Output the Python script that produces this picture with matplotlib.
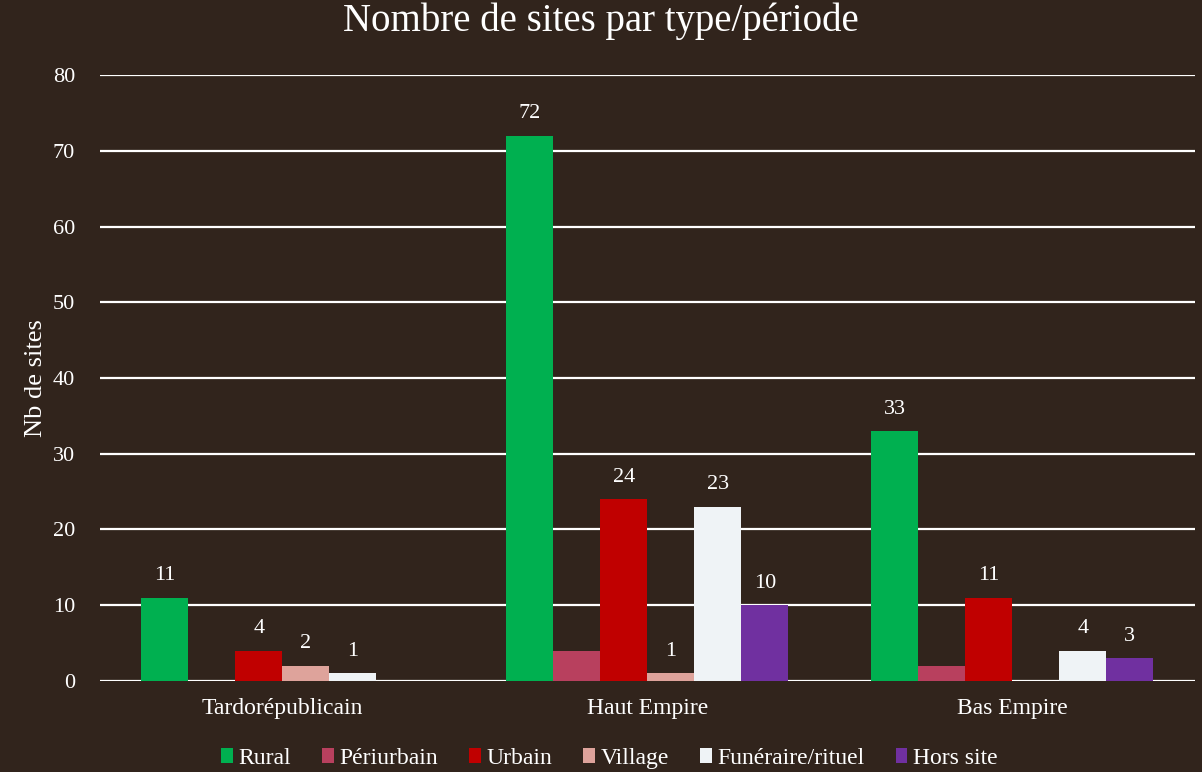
import numpy as np
import matplotlib.pyplot as plt
from matplotlib.patches import Patch

periodes = ["Tardorépublicain", "Haut Empire", "Bas Empire"]
types = ["Rural", "Périurbain", "Urbain", "Village", "Funéraire/rituel", "Hors site"]

rural = [11, 72, 33]
periurbain = [0, 4, 2]
urbain = [4, 24, 11]
village = [2, 1, 0]
funeraire = [1, 23, 4]
hors_site = [0, 10, 3]

couleurs = ["#00b050", "#b8405e", "#c00000", "#dea39b", "#eff3f6", "#7030a0"]
# Périurbain has no data labels in the original
avec_etiquettes = [True, False, True, True, True, True]

fond = "#31241c"
texte = "#ffffff"

plt.rcParams["font.family"] = ["Liberation Serif", "DejaVu Serif"]

fig = plt.figure(figsize=(12.02, 7.72), dpi=100, facecolor=fond)
ax = fig.add_axes([0.0832, 0.1179, 0.9108, 0.7849], facecolor=fond)

series = [rural, periurbain, urbain, village, funeraire, hors_site]
x = np.arange(len(periodes))
w = 0.1288

for i, (vals, nom, c) in enumerate(zip(series, types, couleurs)):
    pos = x + (i - 2.5) * w
    barres = ax.bar(pos, vals, width=w, color=c, label=nom, zorder=3)
    if avec_etiquettes[i]:
        for b, v in zip(barres, vals):
            if v == 0:
                continue
            ax.annotate(str(v), (b.get_x() + b.get_width() / 2, v),
                        xytext=(0, 9), textcoords="offset points",
                        ha="center", va="bottom", color=texte,
                        fontsize=16)

ax.set_xlim(-0.5, 2.5)
ax.set_ylim(0, 80)
ax.set_yticks(range(0, 81, 10))
ax.set_xticks(x)
ax.set_xticklabels(periodes, fontsize=17)
ax.grid(axis="y", color="white", linewidth=1.6, zorder=0)
ax.set_axisbelow(True)
for s in ax.spines.values():
    s.set_visible(False)
ax.tick_params(axis="both", length=0, colors=texte)
ax.tick_params(axis="y", pad=18, labelsize=16)
ax.tick_params(axis="x", pad=12)

ax.set_ylabel("Nb de sites", color=texte, fontsize=19, labelpad=4)
fig.text(0.5, 0.972, "Nombre de sites par type/période", ha="center", va="center",
         color=texte, fontsize=28)

poignees = [Patch(facecolor=c, label=n) for c, n in zip(couleurs, types)]
fig.legend(handles=poignees, loc="center", bbox_to_anchor=(0.507, 0.018), ncol=6,
           frameon=False, fontsize=17, labelcolor=texte, handlelength=0.5,
           handleheight=0.6, handletextpad=0.25, columnspacing=1.3)

plt.savefig("out.png", dpi=100, facecolor=fond)
plt.close()
